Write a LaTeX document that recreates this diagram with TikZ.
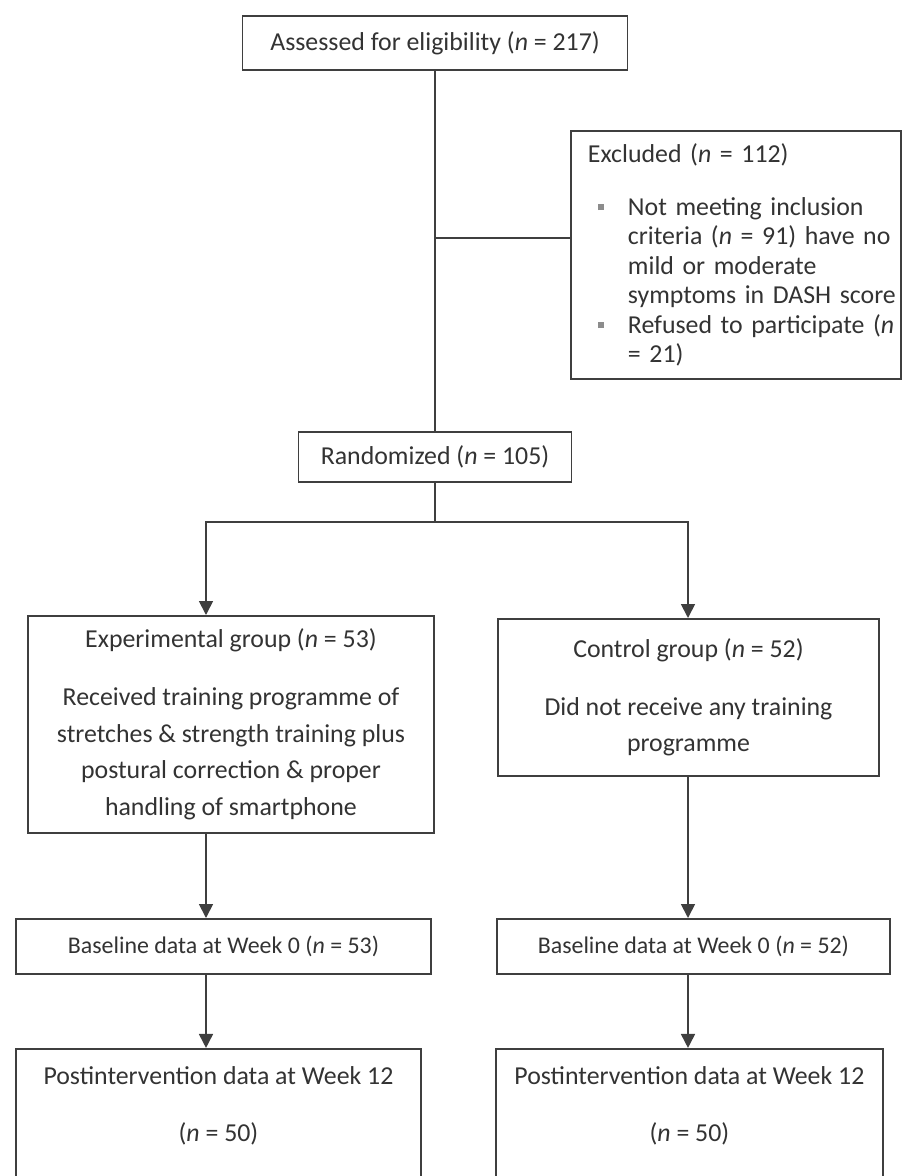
\documentclass[tikz,border=0pt]{standalone}
\usepackage{fontspec}
\setmainfont{Carlito}
\usepackage{xcolor}
\usetikzlibrary{arrows.meta, positioning}
\definecolor{FlowInk}{HTML}{333333}
\definecolor{FlowLine}{HTML}{3F3F3F}
\definecolor{FlowBullet}{HTML}{8C8C8C}
\newcommand{\exbullet}{\makebox[0.97cm][l]{\hspace*{0.37cm}\textcolor{FlowBullet}{\rule[0.2em]{0.12cm}{0.12cm}}}}
\newcommand{\exindent}{\hspace*{0.97cm}}
\tikzset{
    % Plain stage box
    stage/.style={
        rectangle,
        draw=FlowLine,
        fill=white,
        line width=1.1pt,
        text=FlowInk,
        inner sep=0pt,
        align=center,
        font=\fontsize{14.7}{20.9}\selectfont
    },
    % Exclusion box with bullets
    excluded/.style={
        stage,
        align=left,
        text width=6.26cm,
        inner xsep=0.17cm,
        minimum height=4.96cm,
        font=\fontsize{14.7}{16.8}\selectfont
    },
    % Group box
    group/.style={
        stage,
        anchor=north west
    },
    % Baseline box
    baseline/.style={
        stage,
        minimum height=1.1cm,
        font=\fontsize{13.6}{16}\selectfont
    },
    % Follow-up box
    followup/.style={
        stage,
        minimum height=3.2cm
    },
    % Plain connector
    link/.style={
        draw=FlowLine,
        line width=1pt
    },
    % Arrow connector
    arrow/.style={
        link,
        -{Triangle[width=0.28cm, length=0.28cm]}
    }
}
\begin{document}
\begin{tikzpicture}
        \useasboundingbox (0,0) rectangle (18.04,-23.52);

        % Enrolment
        \node (assess) [stage, minimum width=7.7cm, minimum height=1.08cm] at (8.7,-0.86) {Assessed for eligibility (\textit{n} = 217)};
        \node (rand) [stage, minimum width=5.46cm, minimum height=1cm, below=7.2cm of assess] {Randomized (\textit{n} = 105)};
        \node (excl) [excluded, anchor=north west] at (11.4,-2.6) {\mbox{\hspace*{0.17cm}Excluded (\textit{n} = 112)}\\[13.2pt]
            \mbox{\exbullet Not meeting inclusion}\\
            \mbox{\exindent criteria (\textit{n} = 91) have no}\\
            \mbox{\exindent mild or moderate}\\
            \mbox{\exindent symptoms in DASH score}\\
            \mbox{\exbullet Refused to participate (\textit{n}}\\
            \mbox{\exindent = 21)}};

        \coordinate (trunk) at (8.7,-4.76);
        \coordinate (split) at (8.7,-10.44);
        \coordinate (colL) at (4.12,0);
        \coordinate (colR) at (13.76,0);

        \draw [link] (assess) -- (rand);
        \draw [link] (trunk) -- (trunk -| excl.west);
        \draw [link] (rand) -- (split);

        % Allocation
        \node (exp) [group, minimum width=8.12cm, minimum height=4.34cm] at (0.54,-12.3) {Experimental group (\textit{n} = 53)\\[12pt]
            Received training programme of\\
            stretches \& strength training plus\\
            postural correction \& proper\\
            handling of smartphone};
        \node (ctrl) [group, minimum width=7.62cm, minimum height=3.14cm] at (9.94,-12.36) {Control group (\textit{n} = 52)\\[12pt]
            Did not receive any training\\
            programme};

        \draw [arrow] (split) -| (exp.north -| colL);
        \draw [arrow] (split) -| (ctrl.north -| colR);

        % Baseline
        \node (base1) [baseline, minimum width=8.3cm, anchor=north west] at (0.3,-18.36) {Baseline data at Week 0 (\textit{n} = 53)};
        \node (base2) [baseline, minimum width=7.86cm, right=1.28cm of base1] {Baseline data at Week 0 (\textit{n} = 52)};

        \draw [arrow] (exp.south -| colL) -- (base1.north -| colL);
        \draw [arrow] (ctrl.south -| colR) -- (base2.north -| colR);

        % Follow-up
        \node (post1) [followup, minimum width=8.1cm, below=1.46cm of base1.south west, anchor=north west] {Postintervention data at Week 12\\[12pt](\textit{n} = 50)\\[7.5pt]\mbox{}};
        \node (post2) [followup, minimum width=7.74cm, below=1.46cm of base2.south west, anchor=north west, xshift=-0.02cm] {Postintervention data at Week 12\\[12pt](\textit{n} = 50)\\[7.5pt]\mbox{}};

        \draw [arrow] (base1.south -| colL) -- (post1.north -| colL);
        \draw [arrow] (base2.south -| colR) -- (post2.north -| colR);
    \end{tikzpicture}
\end{document}
